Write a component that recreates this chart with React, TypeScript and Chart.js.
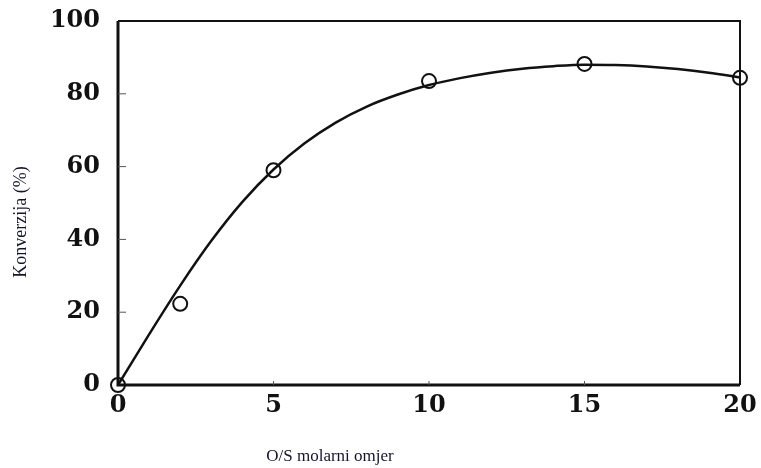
import React, { useEffect, useRef } from "react";
import { Chart, registerables } from "chart.js";

Chart.register(...registerables);

// Measured points (O/S molar ratio vs conversion %)
const xMeasured = [0, 2, 5, 10, 15, 20];
const yMeasured = [0, 22.3, 59, 83.5, 88.2, 84.4];

// Fitted trend curve
const xCurve = [0, 1, 2, 3, 4, 5, 6, 7, 8, 9, 10, 11, 12, 13, 14, 15, 16, 17, 18, 19, 20];
const yCurve = [0, 13.9, 27.3, 39.6, 50.3, 59.2, 66.4, 72.1, 76.5, 79.8, 82.4, 84.3, 85.8, 86.9, 87.6, 88.0, 87.9, 87.5, 86.8, 85.8, 84.5];

const xTicks = [0, 5, 10, 15, 20];
const yTicks = [0, 20, 40, 60, 80, 100];

const xTitle = "O/S molarni omjer";
const yTitle = "Konverzija (%)";

const framePlugin = {
  id: "frame",
  afterDraw(chart: any) {
    const { ctx, chartArea } = chart;
    const xs = chart.scales.x;
    const ys = chart.scales.y;
    ctx.save();
    ctx.strokeStyle = "#111";
    // box
    ctx.lineWidth = 2;
    ctx.beginPath();
    ctx.moveTo(chartArea.left, chartArea.top);
    ctx.lineTo(chartArea.right, chartArea.top);
    ctx.lineTo(chartArea.right, chartArea.bottom);
    ctx.stroke();
    ctx.lineWidth = 3;
    ctx.beginPath();
    ctx.moveTo(chartArea.left, chartArea.top);
    ctx.lineTo(chartArea.left, chartArea.bottom);
    ctx.lineTo(chartArea.right, chartArea.bottom);
    ctx.stroke();
    // inner ticks
    ctx.lineWidth = 1;
    ctx.strokeStyle = "#555";
    yTicks.forEach((v) => {
      if (v === 0 || v === 100) return;
      const py = ys.getPixelForValue(v);
      ctx.beginPath();
      ctx.moveTo(chartArea.left, py);
      ctx.lineTo(chartArea.left + 8, py);
      ctx.stroke();
    });
    xTicks.forEach((v) => {
      if (v === 0 || v === 20) return;
      const px = xs.getPixelForValue(v);
      ctx.beginPath();
      ctx.moveTo(px, chartArea.bottom);
      ctx.lineTo(px, chartArea.bottom - 4);
      ctx.stroke();
    });
    // titles
    ctx.fillStyle = "#14142a";
    ctx.font = "17px 'Liberation Serif', 'Times New Roman', serif";
    ctx.textAlign = "center";
    ctx.textBaseline = "middle";
    ctx.fillText(xTitle, 330, 457);
    ctx.translate(21, 222);
    ctx.rotate(-Math.PI / 2);
    ctx.font = "18px 'Liberation Serif', 'Times New Roman', serif";
    ctx.fillText(yTitle, 0, 0);
    ctx.restore();
  },
};

export default function App() {
  const canvasRef = useRef<HTMLCanvasElement | null>(null);

  useEffect(() => {
    if (!canvasRef.current) return;
    const tickFont = { family: "'DejaVu Serif', serif", weight: "bold" as const, size: 24 };
    const chart = new Chart(canvasRef.current, {
      type: "scatter",
      data: {
        datasets: [
          {
            type: "line",
            label: "fit",
            data: xCurve.map((x, i) => ({ x, y: yCurve[i] })),
            borderColor: "#111",
            borderWidth: 2.5,
            pointRadius: 0,
            cubicInterpolationMode: "monotone",
            fill: false,
            clip: false as any,
          },
          {
            type: "scatter",
            label: "measured",
            data: xMeasured.map((x, i) => ({ x, y: yMeasured[i] })),
            borderColor: "#111",
            backgroundColor: "rgba(255,255,255,0)",
            borderWidth: 2,
            pointRadius: 7,
            pointStyle: "circle",
            clip: false as any,
          },
        ],
      },
      options: {
        animation: false,
        responsive: true,
        maintainAspectRatio: false,
        layout: { padding: { left: 0, top: 21, right: 21, bottom: 0 } },
        plugins: { legend: { display: false }, tooltip: { enabled: false } },
        scales: {
          x: {
            type: "linear",
            min: 0,
            max: 20,
            afterFit: (s: any) => {
              s.height = 83;
              s.paddingLeft = 0;
              s.paddingRight = 0;
            },
            afterBuildTicks: (s: any) => {
              s.ticks = xTicks.map((v) => ({ value: v }));
            },
            grid: { display: false, drawTicks: false },
            border: { display: false },
            ticks: { font: tickFont, color: "#111", padding: 6, maxRotation: 0 },
            title: { display: false },
          },
          y: {
            type: "linear",
            min: 0,
            max: 100,
            afterFit: (s: any) => {
              s.width = 118;
              s.paddingTop = 0;
              s.paddingBottom = 0;
            },
            afterBuildTicks: (s: any) => {
              s.ticks = yTicks.map((v) => ({ value: v }));
            },
            grid: { display: false, drawTicks: false },
            border: { display: false },
            ticks: { font: tickFont, color: "#111", padding: 18 },
            title: { display: false },
          },
        },
      },
      plugins: [framePlugin],
    });
    return () => chart.destroy();
  }, []);

  return (
    <div style={{ position: "absolute", left: 0, top: 0, width: 761, height: 468, background: "#fff" }}>
      <canvas ref={canvasRef} />
    </div>
  );
}
